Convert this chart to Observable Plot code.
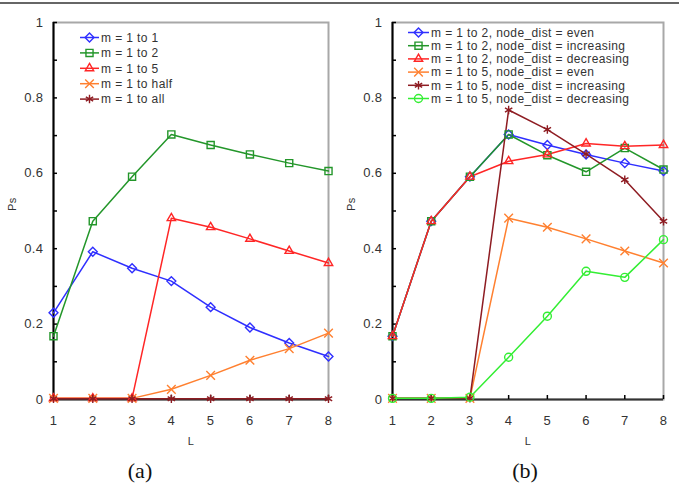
<!DOCTYPE html>
<html><head><meta charset="utf-8">
<script src="https://cdn.jsdelivr.net/npm/d3@7"></script>
<script src="https://cdn.jsdelivr.net/npm/@observablehq/plot@0.6"></script>
<style>
body{margin:0;background:#fff;}
#root{position:relative;width:679px;height:488px;overflow:hidden;font-family:"Liberation Sans",Arial,sans-serif;background:#fff;}
#rule{position:absolute;left:0;top:2px;width:679px;height:2px;background:#666;}
.panel{position:absolute;top:0;}
.cap{position:absolute;font-family:"Liberation Serif","Times New Roman",serif;font-size:22px;transform:translate(-50%,-50%);color:#111;}
.leg{position:absolute;left:0;top:0;pointer-events:none;}
</style></head><body><div id="root"><div id="rule"></div></div>
<script>
// ---- data ----
const L = [1, 2, 3, 4, 5, 6, 7, 8];
const yTicks = [0, 0.2, 0.4, 0.6, 0.8, 1];
const yMinorTicks = [0, 0.1, 0.2, 0.3, 0.4, 0.5, 0.6, 0.7, 0.8, 0.9, 1];

// panel (a)
const aNames = ["m = 1 to 1", "m = 1 to 2", "m = 1 to 5", "m = 1 to half", "m = 1 to all"];
const aM1to1 = [0.230, 0.392, 0.348, 0.314, 0.245, 0.191, 0.150, 0.114];
const aM1to2 = [0.168, 0.473, 0.591, 0.703, 0.675, 0.650, 0.627, 0.606];
const aM1to5 = [0.003, 0.003, 0.003, 0.481, 0.457, 0.426, 0.394, 0.362];
const aM1toHalf = [0.003, 0.003, 0.003, 0.027, 0.064, 0.104, 0.135, 0.176];
const aM1toAll = [0.002, 0.002, 0.002, 0.002, 0.002, 0.002, 0.002, 0.002];

// panel (b)
const bNames = [
  "m = 1 to 2, node_dist = even",
  "m = 1 to 2, node_dist = increasing",
  "m = 1 to 2, node_dist = decreasing",
  "m = 1 to 5, node_dist = even",
  "m = 1 to 5, node_dist = increasing",
  "m = 1 to 5, node_dist = decreasing"
];
const bM2Even = [0.168, 0.473, 0.591, 0.703, 0.675, 0.650, 0.627, 0.606];
const bM2Inc = [0.168, 0.473, 0.591, 0.703, 0.648, 0.604, 0.667, 0.610];
const bM2Dec = [0.168, 0.473, 0.591, 0.632, 0.650, 0.679, 0.672, 0.675];
const bM5Even = [0.003, 0.003, 0.003, 0.481, 0.457, 0.426, 0.394, 0.362];
const bM5Inc = [0.003, 0.003, 0.003, 0.768, 0.716, 0.651, 0.583, 0.473];
const bM5Dec = [0.003, 0.003, 0.006, 0.112, 0.221, 0.340, 0.324, 0.424];

// ---- styles ----
const cBlue = "#2f2fff", cGreen = "#23962a", cRed = "#ff2626", cOrange = "#ff8030", cDark = "#8e1c22", cLight = "#33ee33";

const seriesA = [
  {name: aNames[0], values: aM1to1, color: cBlue, symbol: "diamond2"},
  {name: aNames[1], values: aM1to2, color: cGreen, symbol: "square"},
  {name: aNames[2], values: aM1to5, color: cRed, symbol: "triangle2"},
  {name: aNames[3], values: aM1toHalf, color: cOrange, symbol: "times"},
  {name: aNames[4], values: aM1toAll, color: cDark, symbol: "asterisk"}
];
const seriesB = [
  {name: bNames[0], values: bM2Even, color: cBlue, symbol: "diamond2"},
  {name: bNames[1], values: bM2Inc, color: cGreen, symbol: "square"},
  {name: bNames[2], values: bM2Dec, color: cRed, symbol: "triangle2"},
  {name: bNames[3], values: bM5Even, color: cOrange, symbol: "times"},
  {name: bNames[4], values: bM5Inc, color: cDark, symbol: "asterisk"},
  {name: bNames[5], values: bM5Dec, color: cLight, symbol: "circle"}
];

const root = document.getElementById("root");
const H = 460, MT = 22, MB = H - 399;

function panel(series, {left, width, marginLeft, marginRight}) {
  const frameW = width - marginLeft - marginRight;
  const frameH = H - MT - MB;
  const marks = [
    Plot.frame({stroke: "#a8a8a8", strokeWidth: 2}),
    Plot.ruleY([0], {stroke: "#333", strokeWidth: 2}),
    Plot.ruleX([1], {stroke: "#000", strokeWidth: 2}),
    Plot.tickY(yMinorTicks, {y: d => d, insetRight: frameW - 4, stroke: "#000", strokeWidth: 1.5}),
    Plot.tickX(L, {x: d => d, insetTop: frameH - 4, stroke: "#000", strokeWidth: 1.5}),
    Plot.text(["Ps"], {frameAnchor: "left", dx: -41, rotate: -90, fontSize: 11, fill: "#333"}),
    Plot.text(["L"], {frameAnchor: "bottom", dy: 45, fontSize: 11, fill: "#333"}),
    ...series.map(s => Plot.line(L, {x: d => d, y: (d, i) => s.values[i], stroke: s.color, strokeWidth: 1.5})),
    ...series.map(s => Plot.dot(L, {x: d => d, y: (d, i) => s.values[i], symbol: s.symbol, r: 4, stroke: s.color, strokeWidth: 1.4, fill: "none"}))
  ];
  const chart = Plot.plot({
    width, height: H,
    marginLeft, marginRight, marginTop: MT, marginBottom: MB,
    style: {fontFamily: '"Liberation Sans", Arial, sans-serif', fontSize: "13px", letterSpacing: "0.4px", color: "#333", background: "transparent"},
    x: {domain: [1, 8], ticks: L, tickSize: 0, tickPadding: 16, label: null, tickFormat: d => String(d)},
    y: {domain: [0, 1], ticks: yTicks, tickSize: 0, tickPadding: 10, label: null, tickFormat: d => String(+d.toFixed(1))},
    marks
  });
  chart.classList.add("panel");
  chart.style.left = left + "px";
  root.appendChild(chart);
}

panel(seriesA, {left: 0, width: 340, marginLeft: 53, marginRight: 12});
panel(seriesB, {left: 339, width: 340, marginLeft: 53, marginRight: 16});

// ---- legends ----
const symMap = {diamond2: d3.symbolDiamond2, square: d3.symbolSquare, triangle2: d3.symbolTriangle2, times: d3.symbolTimes, asterisk: d3.symbolAsterisk, circle: d3.symbolCircle};
function legend(series, {x0, x1, xt, y0, dy}) {
  const svg = d3.select(root).append("svg").attr("class", "leg").attr("width", 679).attr("height", 488);
  series.forEach((s, i) => {
    const y = y0 + i * dy;
    const g = svg.append("g");
    g.append("line").attr("x1", x0).attr("x2", x1).attr("y1", y).attr("y2", y).attr("stroke", s.color).attr("stroke-width", 1.5);
    g.append("path").attr("d", d3.symbol(symMap[s.symbol], Math.PI * 16)()).attr("transform", `translate(${(x0 + x1) / 2},${y})`).attr("fill", "none").attr("stroke", s.color).attr("stroke-width", 1.4);
    g.append("text").attr("x", xt).attr("y", y).attr("dy", "0.35em").attr("font-size", 12).attr("letter-spacing", "0.4px").attr("fill", "#333").attr("font-family", '"Liberation Sans", Arial, sans-serif').text(s.name);
  });
}
legend(seriesA, {x0: 80, x1: 99, xt: 101, y0: 37.5, dy: 15.4});
legend(seriesB, {x0: 408, x1: 429, xt: 431, y0: 32.5, dy: 13.2});

// ---- captions ----
[["(a)", 140], ["(b)", 525]].forEach(([t, x]) => {
  const d = document.createElement("div");
  d.className = "cap"; d.textContent = t;
  d.style.left = x + "px"; d.style.top = "471px";
  root.appendChild(d);
});
</script>
</body></html>
